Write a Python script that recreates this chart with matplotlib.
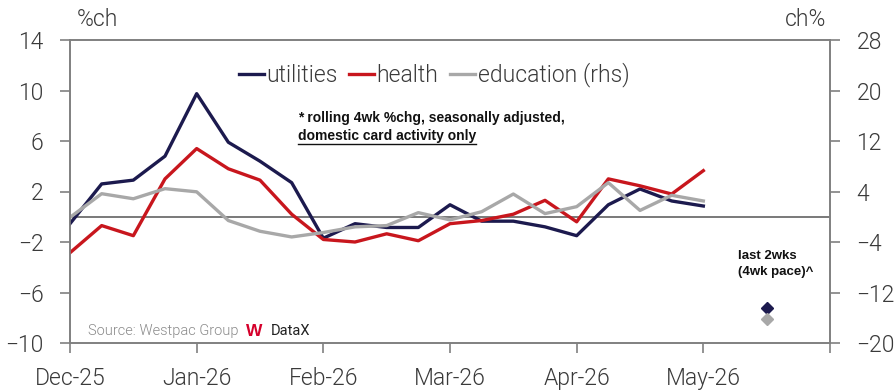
import matplotlib
matplotlib.use("Agg")
import matplotlib.pyplot as plt
from matplotlib.lines import Line2D
import numpy as np

months = ["Dec-25", "Jan-26", "Feb-26", "Mar-26", "Apr-26", "May-26", ""]
utilities = [-0.55, 2.6, 2.9, 4.8, 9.75, 5.9, 4.4, 2.7, -1.7, -0.55, -0.85, -0.85,
             0.95, -0.35, -0.35, -0.8, -1.5, 0.95, 2.2, 1.25, 0.85]
health = [-2.85, -0.7, -1.5, 3.0, 5.4, 3.8, 2.9, 0.2, -1.8, -2.0, -1.35, -1.9,
          -0.55, -0.3, 0.2, 1.3, -0.4, 3.0, 2.45, 1.8, 3.65]
education = [-0.1, 3.65, 2.85, 4.45, 3.95, -0.6, -2.3, -3.2, -2.5, -1.6, -1.4, 0.65,
             -0.5, 0.8, 3.6, 0.5, 1.6, 5.4, 1.0, 3.4, 2.5]
last2_utilities = -7.2
last2_education = -16.2

NAVY = "#1c1a4e"
RED = "#c8161d"
GREY = "#a8a8a8"
AXC = "#808080"
TXT = "#3a3a3a"
FONT = ["Roboto", "DejaVu Sans"]
W = 300

plt.rcParams["font.family"] = FONT

fig = plt.figure(figsize=(8.96, 3.92), dpi=100)
ax = fig.add_axes([70/896, 1-343/392, 760/896, 303/392])
ax2 = ax.twinx()

def ax_x(px):
    return (px - 70) / 760

def ax_y(py):
    return 1 - (py - 40) / 303

x = np.arange(len(utilities))
ax.axhline(0, color="#6e6e6e", lw=1.3, zorder=1)
ax.plot(x, utilities, color=NAVY, lw=2.4, zorder=3)
ax.plot(x, health, color=RED, lw=2.4, zorder=3)
ax2.plot(x, education, color=GREY, lw=2.4, zorder=2)
ax.plot([22], [last2_utilities], marker="D", color=NAVY, ms=6, ls="none", zorder=4)
ax2.plot([22], [last2_education], marker="D", color=GREY, ms=6, ls="none", zorder=4)

ax.set_xlim(0, 24)
ax.set_ylim(-10, 14)
ax2.set_ylim(-20, 28)
ax.set_yticks([-10, -6, -2, 2, 6, 10, 14])
ax2.set_yticks([-20, -12, -4, 4, 12, 20, 28])
ax.set_xticks(np.arange(0, 25, 4))
ax.set_xticklabels(months)

for a in (ax, ax2):
    for s in a.spines.values():
        s.set_color(AXC)
        s.set_linewidth(1.2)
    a.tick_params(color=AXC, width=1.2, length=7, direction="out",
                  labelsize=16.5, labelcolor=TXT)
ax.tick_params(axis="y", pad=12)
ax2.tick_params(axis="y", pad=12)
ax.tick_params(axis="x", pad=10)
for lab in ax.get_xticklabels() + ax.get_yticklabels() + ax2.get_yticklabels():
    lab.set_fontweight(W)

fig.text(77/896, 1-20/392, "%ch", fontsize=16.5, color=TXT, fontweight=W,
         ha="left", va="center")
fig.text(826/896, 1-20/392, "ch%", fontsize=16.5, color=TXT, fontweight=W,
         ha="right", va="center")

handles = [Line2D([], [], color=NAVY, lw=2.4),
           Line2D([], [], color=RED, lw=2.4),
           Line2D([], [], color=GREY, lw=2.4)]
leg = ax.legend(handles, ["utilities", "health", "education (rhs)"], ncol=3,
                loc="center", bbox_to_anchor=(ax_x(434), ax_y(75)), frameon=False,
                handlelength=1.1, handletextpad=0.1, columnspacing=0.5,
                prop={"family": FONT, "weight": W, "size": 16.5})
for t in leg.get_texts():
    t.set_color(TXT)

ax.text(ax_x(298), ax_y(118), "* rolling 4wk %chg, seasonally adjusted,",
        transform=ax.transAxes, fontsize=10, fontweight="bold",
        family="Liberation Sans", color="#111111", ha="left", va="center")
t2 = ax.text(ax_x(298), ax_y(136), "domestic card activity only",
             transform=ax.transAxes, fontsize=10, fontweight="bold",
             family="Liberation Sans", color="#111111", ha="left", va="center")
ax.text(ax_x(738), ax_y(264), "last 2wks\n(4wk pace)^",
        transform=ax.transAxes, fontsize=9.5, fontweight="bold",
        family="Liberation Sans", color="#111111", ha="left", va="center",
        linespacing=1.5)

ax.text(ax_x(88), ax_y(331), "Source: Westpac Group", transform=ax.transAxes,
        fontsize=10.5, color="#8a8a8a", fontweight=W, ha="left", va="center")
ax.text(ax_x(246), ax_y(331), "W", transform=ax.transAxes,
        fontsize=12.5, color="#d5002b", fontweight="bold",
        family="Liberation Sans", ha="left", va="center")
ax.text(ax_x(271), ax_y(331), "DataX", transform=ax.transAxes,
        fontsize=10.5, color="#222222", fontweight="normal", ha="left", va="center")

fig.canvas.draw()
r = fig.canvas.get_renderer()
bb = t2.get_window_extent(renderer=r)
yline = bb.y0 - 1
fig.add_artist(Line2D([bb.x0 / fig.bbox.width, bb.x1 / fig.bbox.width],
                      [yline / fig.bbox.height] * 2, color="#111111", lw=1.0))

fig.savefig("out.png", dpi=100)
